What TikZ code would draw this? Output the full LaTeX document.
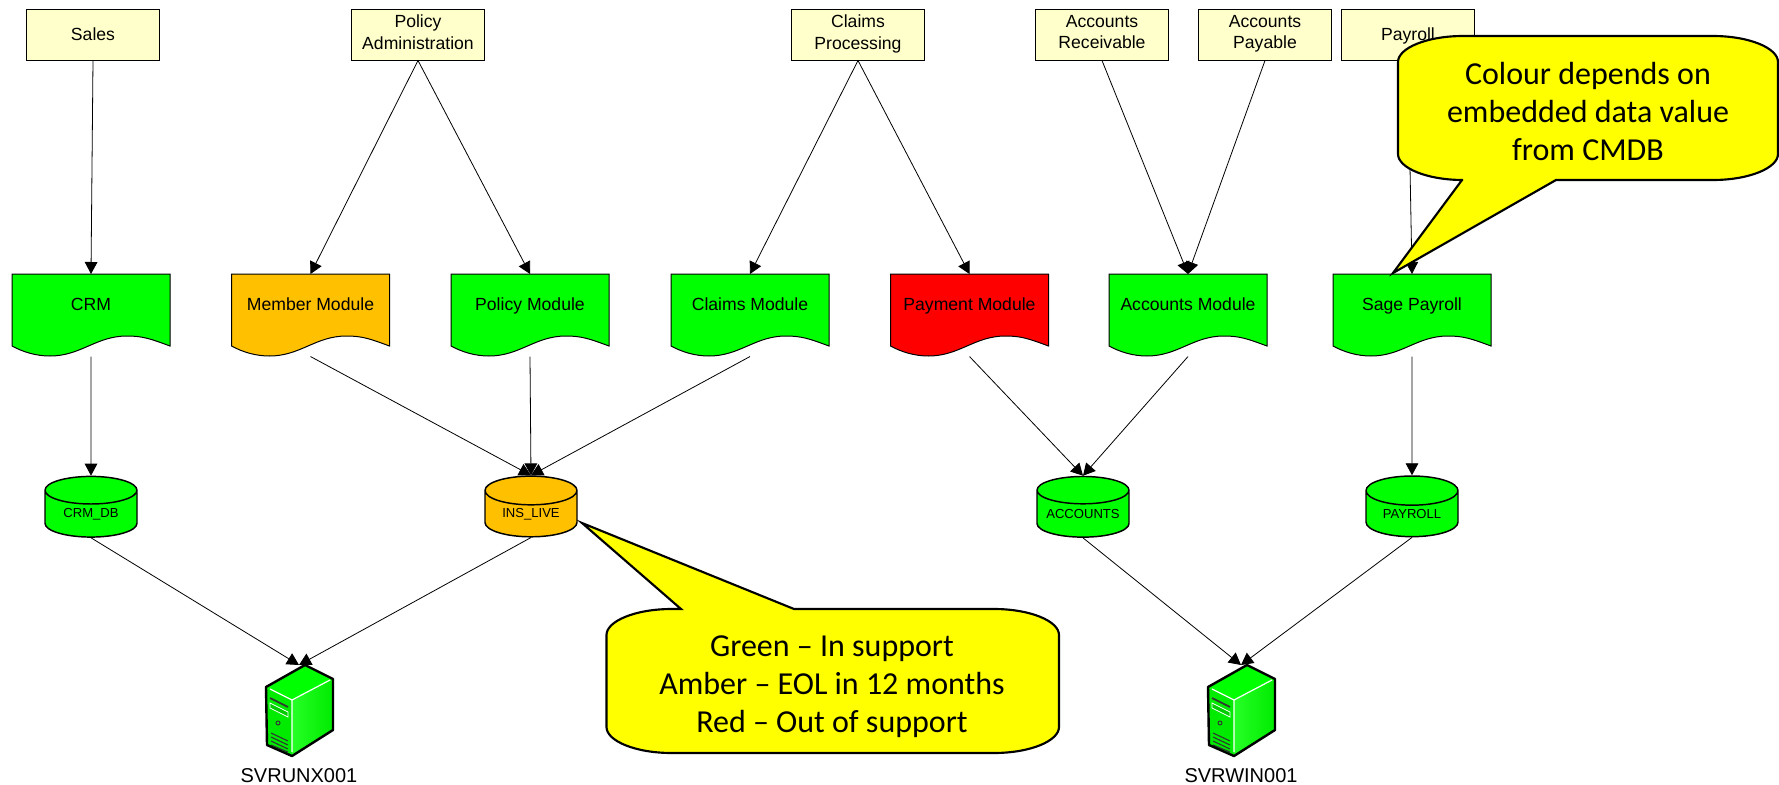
\documentclass[tikz,border=0pt]{standalone}
\usepackage{fontspec}
\usepackage{xcolor}
\usetikzlibrary{positioning,shapes.geometric,arrows.meta,calc}
\setmainfont{Liberation Sans}
\newfontfamily\notefont{Carlito}
\definecolor{okgreen}{HTML}{00FF00}
\definecolor{amber}{HTML}{FFC000}
\definecolor{bizyellow}{HTML}{FFFFCC}
\definecolor{noteyellow}{HTML}{FFFF00}

% document shape: name, x, colour, text
\newcommand{\appnode}[4]{
    \draw[fill=#3, line width=0.75pt, shift={(#2,274)}]
        (-79,0) -- (79,0) -- (79,72)
        .. controls (60,65) and (52,62) .. (36,62)
        .. controls (5,62) and (-10,82) .. (-41,82)
        .. controls (-55,82) and (-68,78) .. (-79,72) -- cycle;
    \node[apptext] (#1) at (#2,274) {#4};
}
% tower server: name, x, text
\newcommand{\servernode}[3]{
    \begin{scope}[shift={(#2-33,665)}]
        \fill[okgreen!92!black] (0,22) -- (26,35) -- (26,91) -- (1,80) -- cycle;
        \shade[left color=okgreen!85!white, right color=okgreen!92!black] (26,35) -- (67,14) -- (67,65) -- (26,91) -- cycle;
        \fill[okgreen] (39,0) -- (0,22) -- (26,35) -- (67,14) -- cycle;
        \draw[white, line width=0.9pt] (4,24) -- (26,35) -- (64,15) (26,35) -- (26,87);
        \draw[black!80, line width=1.2pt] (4,33) -- (22,42);
        \draw[white, fill=okgreen!80!black, line width=0.6pt] (4,38) -- (22,47) -- (22,52) -- (4,43) -- cycle;
        \draw[black!80, line width=0.7pt] (12,58) circle (2);
        \draw[black!80, line width=0.8pt] (5,68) -- (22,76) (5,72) -- (22,80) (5,76) -- (22,84) (5,80) -- (22,87);
        \draw[line width=1.8pt, line join=round] (39,0) -- (0,22) -- (1,80) -- (26,91) -- (67,65) -- (67,14) -- cycle;
    \end{scope}
    \node[srvbox, label={[srvlabel]below:#3}] (#1) at (#2,665) {};
}
% rounded speech bubble: left, top, right, bottom, pointer on top edge, pointer on bottom edge
\newcommand{\notebubble}[6]{
    \draw[fill=noteyellow, line width=1.6pt, line join=miter]
        ({#1+65},#2) #5 -- ({#3-65},#2)
        .. controls ({#3-29},#2) and (#3,{#2+12}) .. (#3,{#2+26}) -- (#3,{#4-26})
        .. controls (#3,{#4-12}) and ({#3-29},#4) .. ({#3-65},#4) #6 -- ({#1+65},#4)
        .. controls ({#1+29},#4) and (#1,{#4-12}) .. (#1,{#4-26}) -- (#1,{#2+26})
        .. controls (#1,{#2+12}) and ({#1+29},#2) .. ({#1+65},#2) -- cycle;
}

\begin{document}
\begin{tikzpicture}[
    x=0.75pt, y=-0.75pt,
    bizbox/.style={draw, fill=bizyellow, line width=0.75pt, minimum width=99.5pt, minimum height=38.25pt,
        inner sep=0pt, align=center, font=\fontsize{13.2}{15.8}\selectfont,
        execute at begin node={\rule{0pt}{12.5pt}}, execute at end node={\rule[-3.6pt]{0pt}{3.6pt}}},
    apptext/.style={anchor=north, inner sep=0pt, minimum width=118.5pt, text height=27pt, text depth=34.5pt,
        font=\fontsize{13.2}{15.8}\selectfont},
    dbnode/.style={draw, fill=#1, cylinder, shape border rotate=90, shape aspect=0.5, line width=1.1pt,
        minimum width=69pt, minimum height=45.5pt, inner sep=0pt, font=\fontsize{9.8}{12}\selectfont},
    srvbox/.style={anchor=north, inner sep=0pt, minimum width=50pt, minimum height=68pt},
    srvlabel/.style={inner sep=0pt, yshift=-9pt, font=\fontsize{15}{18}\selectfont},
    notetext/.style={align=center, inner sep=0pt, font=\notefont\fontsize{24}{28.5}\selectfont},
    link/.style={-{Triangle[length=9pt,width=9.5pt]}, line width=0.6pt}
]
    \useasboundingbox (0,0) rectangle (1779,785);

    % business functions along the top
    \node[bizbox] (sales) at (93,34.5) {Sales};
    \node[bizbox] (poladmin) at (418,34.5) {Policy\\Administration};
    \node[bizbox] (claimsproc) at (858,34.5) {Claims\\Processing};
    \node[bizbox] (acctrec) at (1102,34.5) {Accounts\\Receivable};
    \node[bizbox] (acctpay) at (1265,34.5) {Accounts\\Payable};
    \node[bizbox] (payrollfn) at (1408,34.5) {Payroll};

    % applications
    \appnode{crm}{91}{okgreen}{CRM}
    \appnode{member}{310.5}{amber}{Member Module}
    \appnode{policy}{530}{okgreen}{Policy Module}
    \appnode{claims}{750}{okgreen}{Claims Module}
    \appnode{payment}{969.5}{red}{Payment Module}
    \appnode{accounts}{1188}{okgreen}{Accounts Module}
    \appnode{sage}{1412}{okgreen}{Sage Payroll}

    % databases
    \node[dbnode=okgreen] (crmdb) at (91,514) {CRM\_DB};
    \node[dbnode=amber] (inslive) at (531,514) {INS\_LIVE};
    \node[dbnode=okgreen] (acctdb) at (1083,514) {\makebox[41pt]{ACCOUNTS}};
    \node[dbnode=okgreen] (paydb) at (1412,514) {PAYROLL};

    % servers
    \servernode{svrunx}{299}{SVRUNX001}
    \servernode{svrwin}{1241}{SVRWIN001}

    \path[link]
        (sales.south) edge (crm.north)
        (poladmin.south) edge (member.north)
        (poladmin.south) edge (policy.north)
        (claimsproc.south) edge (claims.north)
        (claimsproc.south) edge (payment.north)
        (acctrec.south) edge (accounts.north)
        (acctpay.south) edge (accounts.north)
        (payrollfn.south) edge (sage.north)
        (crm.south) edge (crmdb.north)
        (member.south) edge (inslive.north)
        (policy.south) edge (inslive.north)
        (claims.south) edge (inslive.north)
        (payment.south) edge (acctdb.north)
        (accounts.south) edge (acctdb.north)
        (sage.south) edge (paydb.north)
        (crmdb.south) edge (svrunx.north)
        (inslive.south) edge (svrunx.north)
        (acctdb.south) edge (svrwin.north)
        (paydb.south) edge (svrwin.north);

    % callouts sit on top of everything
    \coordinate (tipins) at (582,523);
    \coordinate (tipsage) at (1393,273);
    \notebubble{606.5}{609}{1059}{753}{-- (681,609) -- (tipins) -- (794,609)}{}
    \notebubble{1398}{36}{1778}{180}{}{-- (1556,180) -- (tipsage) -- (1462,180)}
    \node[notetext] (legend) at (832,687) {Green – In support\\Amber – EOL in 12 months\\Red – Out of support};
    \node[notetext] (colournote) at (1588,111) {Colour depends on\\embedded data value\\from CMDB};
\end{tikzpicture}
\end{document}
